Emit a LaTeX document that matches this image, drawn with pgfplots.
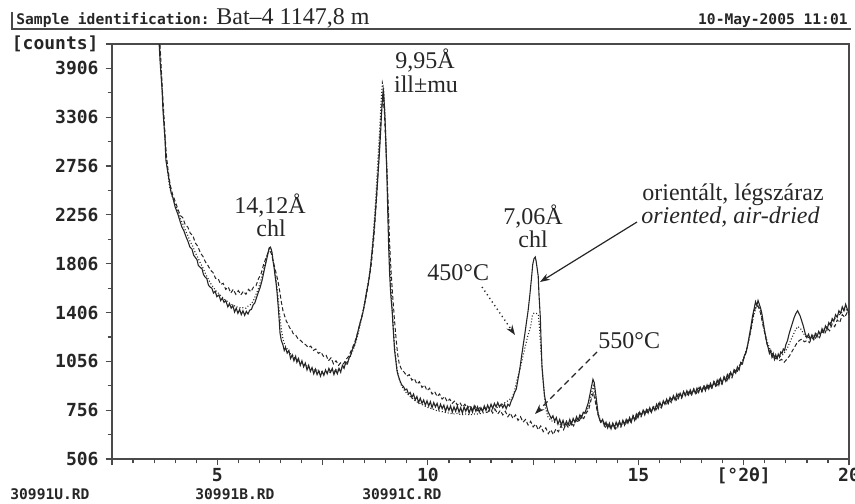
\documentclass[border=0pt]{standalone}
\usepackage{pgfplots}
\pgfplotsset{compat=1.18}
\usepackage{pgfplotstable}
\usepackage{fontspec}
\setmainfont{Liberation Serif}
\newfontfamily\dosfont{DejaVu Sans Mono}[BoldFont={DejaVu Sans Mono Bold}]
\usetikzlibrary{arrows.meta}
\definecolor{ink}{HTML}{262626}
\definecolor{frame}{HTML}{4A4A4A}

\pgfplotstableread{
x y
3.50 5200
3.62 4222
3.64 4012
3.69 3632
3.71 3390
3.76 3042
3.78 2820
3.83 2680
3.90 2483
3.95 2420
4.00 2332
4.04 2290
4.07 2255
4.12 2190
4.16 2139
4.21 2100
4.26 2046
4.30 2010
4.35 1954
4.40 1935
4.44 1880
4.47 1865
4.52 1840
4.55 1790
4.59 1777
4.64 1760
4.67 1715
4.71 1692
4.75 1680
4.79 1625
4.83 1608
4.87 1600
4.91 1560
4.95 1575
4.99 1530
5.04 1545
5.08 1500
5.12 1520
5.16 1485
5.20 1500
5.25 1450
5.29 1475
5.33 1440
5.37 1460
5.41 1410
5.45 1440
5.49 1400
5.53 1430
5.57 1390
5.61 1420
5.65 1385
5.69 1415
5.73 1395
5.77 1425
5.81 1430
5.85 1465
5.89 1480
5.94 1530
5.98 1570
6.02 1608
6.06 1660
6.09 1708
6.13 1777
6.17 1840
6.21 1910
6.23 1945
6.26 1954
6.28 1935
6.30 1905
6.32 1838
6.35 1770
6.37 1708
6.40 1630
6.42 1560
6.45 1440
6.47 1349
6.49 1253
6.52 1200
6.56 1168
6.59 1130
6.62 1150
6.66 1112
6.70 1130
6.74 1075
6.78 1100
6.82 1060
6.86 1090
6.89 1050
6.93 1075
6.97 1030
7.01 1060
7.05 1020
7.09 1045
7.13 1000
7.17 1030
7.21 990
7.25 1015
7.29 975
7.33 1005
7.37 970
7.41 995
7.45 960
7.49 990
7.53 965
7.57 1000
7.61 975
7.65 1010
7.69 985
7.73 1010
7.77 970
7.81 1000
7.85 975
7.89 1010
7.93 985
7.97 1030
8.01 1010
8.05 1050
8.09 1040
8.13 1080
8.17 1100
8.21 1140
8.25 1160
8.29 1200
8.32 1240
8.36 1290
8.40 1340
8.43 1370
8.46 1410
8.50 1480
8.54 1560
8.58 1630
8.62 1720
8.65 1820
8.68 1930
8.71 2060
8.74 2200
8.77 2380
8.80 2560
8.83 2760
8.86 2980
8.88 3150
8.90 3350
8.92 3520
8.94 3640
8.95 3600
8.97 3420
8.99 3200
9.01 2900
9.03 2620
9.05 2250
9.07 1950
9.09 1740
9.11 1600
9.13 1500
9.15 1430
9.18 1270
9.21 1130
9.24 1060
9.27 990
9.30 960
9.34 930
9.38 905
9.42 895
9.46 875
9.50 880
9.54 850
9.58 860
9.62 830
9.66 850
9.70 815
9.74 835
9.78 800
9.82 825
9.86 795
9.90 815
9.94 785
9.98 810
10.02 780
10.06 805
10.10 770
10.14 800
10.18 775
10.22 795
10.26 760
10.30 790
10.34 765
10.38 785
10.42 750
10.46 780
10.50 755
10.54 780
10.58 745
10.62 775
10.66 750
10.70 780
10.74 745
10.78 770
10.82 740
10.86 775
10.90 750
10.94 775
10.98 740
11.02 770
11.06 745
11.10 780
11.14 750
11.18 775
11.22 745
11.26 770
11.30 750
11.34 780
11.38 755
11.42 785
11.46 760
11.50 790
11.54 765
11.58 795
11.62 775
11.66 800
11.70 775
11.74 790
11.78 770
11.82 790
11.86 765
11.90 790
11.94 780
11.98 810
12.02 830
12.06 860
12.10 880
12.14 940
12.18 1000
12.22 1080
12.26 1160
12.30 1240
12.34 1330
12.38 1420
12.42 1540
12.46 1680
12.49 1800
12.52 1850
12.55 1865
12.57 1830
12.59 1780
12.62 1700
12.64 1540
12.67 1370
12.69 1180
12.71 1020
12.74 920
12.77 840
12.81 790
12.85 750
12.89 730
12.93 710
12.97 725
13.01 695
13.05 715
13.09 680
13.13 705
13.17 675
13.21 700
13.25 670
13.29 695
13.33 675
13.37 705
13.41 680
13.45 710
13.49 690
13.53 720
13.57 700
13.61 730
13.65 715
13.69 745
13.73 740
13.77 770
13.81 800
13.85 850
13.89 900
13.92 940
13.95 920
13.98 860
14.01 800
14.04 740
14.07 710
14.11 690
14.15 705
14.19 670
14.23 690
14.27 660
14.31 685
14.35 655
14.39 685
14.43 660
14.47 690
14.51 665
14.55 695
14.59 670
14.63 700
14.67 675
14.71 705
14.75 685
14.79 715
14.83 690
14.87 725
14.91 700
14.95 735
14.99 715
15.03 745
15.07 725
15.11 755
15.15 730
15.19 760
15.23 740
15.27 770
15.31 745
15.35 775
15.39 755
15.43 790
15.47 765
15.51 800
15.55 775
15.59 810
15.63 790
15.67 820
15.71 795
15.75 830
15.79 810
15.83 840
15.87 815
15.91 850
15.95 825
15.99 855
16.03 830
16.07 865
16.11 840
16.15 870
16.19 845
16.23 875
16.27 850
16.31 880
16.35 855
16.39 885
16.43 860
16.47 890
16.51 865
16.55 895
16.59 870
16.63 905
16.67 880
16.71 915
16.75 890
16.79 925
16.83 900
16.87 935
16.91 905
16.95 945
16.99 915
17.03 955
17.07 930
17.11 970
17.15 945
17.19 985
17.23 960
17.27 1000
17.31 980
17.35 1020
17.39 1000
17.43 1050
17.47 1040
17.51 1090
17.55 1110
17.59 1160
17.63 1230
17.67 1300
17.71 1380
17.75 1440
17.78 1490
17.81 1460
17.84 1500
17.87 1470
17.90 1440
17.93 1400
17.96 1340
17.99 1280
18.02 1230
18.05 1180
18.08 1150
18.11 1110
18.14 1130
18.17 1085
18.20 1110
18.23 1070
18.26 1100
18.29 1075
18.32 1105
18.35 1085
18.38 1120
18.41 1110
18.44 1140
18.47 1130
18.50 1170
18.54 1200
18.58 1250
18.62 1290
18.66 1330
18.70 1370
18.74 1400
18.78 1420
18.81 1400
18.84 1380
18.88 1340
18.92 1300
18.96 1250
19.00 1220
19.04 1245
19.08 1205
19.12 1240
19.16 1210
19.20 1250
19.24 1225
19.28 1265
19.32 1240
19.36 1285
19.40 1260
19.44 1305
19.48 1280
19.52 1330
19.56 1310
19.60 1360
19.64 1340
19.68 1390
19.72 1370
19.76 1420
19.80 1400
19.84 1450
19.88 1420
19.92 1470
19.96 1430
20.00 1400
}\airdried

\pgfplotstableread{
x y
3.53 5200
3.63 4222
3.66 3950
3.69 3650
3.72 3380
3.75 3120
3.78 2870
3.82 2700
3.87 2530
3.93 2440
4.00 2360
4.06 2290
4.12 2220
4.18 2170
4.24 2110
4.30 2060
4.36 2000
4.42 1960
4.48 1900
4.54 1860
4.60 1810
4.66 1770
4.72 1720
4.78 1680
4.84 1640
4.90 1610
4.96 1580
5.02 1560
5.08 1540
5.14 1520
5.20 1500
5.26 1490
5.32 1470
5.38 1465
5.44 1450
5.50 1450
5.56 1440
5.62 1445
5.68 1440
5.74 1460
5.80 1470
5.86 1500
5.92 1550
5.98 1600
6.04 1670
6.10 1750
6.16 1840
6.20 1900
6.24 1940
6.28 1920
6.32 1850
6.36 1760
6.40 1660
6.44 1540
6.48 1400
6.52 1280
6.56 1210
6.60 1170
6.66 1140
6.72 1110
6.78 1100
6.84 1080
6.90 1070
6.96 1050
7.02 1045
7.08 1030
7.14 1025
7.20 1010
7.26 1010
7.32 995
7.38 1000
7.44 985
7.50 990
7.56 980
7.62 990
7.68 985
7.74 1000
7.80 990
7.86 1005
7.92 1000
7.98 1020
8.04 1030
8.10 1060
8.16 1090
8.22 1130
8.28 1180
8.34 1240
8.40 1320
8.46 1420
8.52 1520
8.58 1640
8.64 1790
8.70 2050
8.76 2400
8.81 2800
8.86 3200
8.89 3500
8.92 3720
8.95 3650
8.98 3350
9.01 2950
9.04 2500
9.07 2100
9.10 1780
9.13 1560
9.17 1340
9.21 1150
9.26 1020
9.31 950
9.36 910
9.42 880
9.48 860
9.54 845
9.60 830
9.66 820
9.72 805
9.78 800
9.84 790
9.90 785
9.96 775
10.02 770
10.10 765
10.20 755
10.30 750
10.40 745
10.50 740
10.60 735
10.70 738
10.80 730
10.90 735
11.00 730
11.10 735
11.20 735
11.30 740
11.40 745
11.50 755
11.60 765
11.70 780
11.80 795
11.90 810
12.00 830
12.05 860
12.10 920
12.15 970
12.20 1020
12.25 1080
12.31 1154
12.37 1230
12.44 1300
12.48 1380
12.52 1402
12.57 1400
12.62 1395
12.65 1300
12.67 1196
12.70 1060
12.74 936
12.79 774
12.85 720
12.92 700
13.00 690
13.10 680
13.20 675
13.30 680
13.40 690
13.50 700
13.60 715
13.70 735
13.78 760
13.84 800
13.90 870
13.94 900
13.98 830
14.04 740
14.10 700
14.20 680
14.30 670
14.40 670
14.50 675
14.60 685
14.70 695
14.80 705
14.90 715
15.00 730
15.10 740
15.20 750
15.30 760
15.40 775
15.50 785
15.60 800
15.70 810
15.80 825
15.90 835
16.00 845
16.10 855
16.20 860
16.30 870
16.40 875
16.50 885
16.60 890
16.70 900
16.80 910
16.90 925
17.00 935
17.10 950
17.20 965
17.30 990
17.40 1030
17.50 1080
17.56 1130
17.62 1200
17.68 1290
17.74 1390
17.80 1450
17.85 1460
17.90 1420
17.95 1340
18.00 1260
18.06 1190
18.12 1140
18.18 1110
18.24 1090
18.30 1085
18.36 1090
18.42 1100
18.48 1120
18.54 1150
18.60 1190
18.66 1230
18.72 1270
18.78 1300
18.84 1290
18.90 1260
18.96 1230
19.02 1220
19.10 1225
19.20 1240
19.30 1260
19.40 1280
19.50 1310
19.60 1340
19.70 1370
19.80 1400
19.90 1430
20.00 1420
}\heatedA

\pgfplotstableread{
x y
3.55 5200
3.64 4222
3.67 3900
3.70 3600
3.73 3350
3.76 3100
3.79 2880
3.83 2720
3.88 2560
3.94 2460
4.00 2390
4.06 2320
4.12 2250
4.18 2230
4.24 2160
4.30 2140
4.36 2080
4.42 2060
4.48 1990
4.54 1960
4.60 1900
4.66 1870
4.72 1820
4.78 1790
4.84 1750
4.90 1730
4.96 1680
5.02 1680
5.08 1630
5.14 1640
5.20 1590
5.26 1610
5.32 1560
5.38 1590
5.44 1550
5.50 1580
5.56 1545
5.62 1575
5.68 1550
5.74 1590
5.80 1570
5.86 1610
5.92 1620
5.98 1680
6.04 1720
6.10 1800
6.16 1860
6.20 1900
6.24 1920
6.28 1900
6.32 1840
6.36 1780
6.40 1720
6.44 1660
6.48 1580
6.52 1490
6.56 1420
6.60 1380
6.64 1340
6.68 1320
6.72 1290
6.76 1280
6.80 1250
6.86 1240
6.92 1210
6.98 1200
7.04 1180
7.10 1170
7.16 1150
7.22 1160
7.28 1130
7.34 1140
7.40 1110
7.46 1120
7.52 1090
7.58 1100
7.64 1060
7.70 1080
7.76 1040
7.82 1060
7.88 1030
7.94 1050
8.00 1040
8.06 1070
8.12 1090
8.18 1130
8.24 1170
8.30 1220
8.36 1290
8.42 1360
8.48 1440
8.54 1540
8.60 1660
8.66 1810
8.72 2050
8.78 2400
8.83 2800
8.87 3150
8.91 3450
8.94 3520
8.97 3350
9.00 3000
9.03 2700
9.06 2350
9.09 2000
9.12 1780
9.16 1560
9.20 1380
9.24 1230
9.28 1110
9.32 1040
9.38 1000
9.44 985
9.50 960
9.56 970
9.62 935
9.68 945
9.74 910
9.80 925
9.86 890
9.92 905
9.98 870
10.04 885
10.10 850
10.16 865
10.22 835
10.28 850
10.34 820
10.40 835
10.46 805
10.52 820
10.58 795
10.64 810
10.70 785
10.76 800
10.82 775
10.88 790
10.94 765
11.00 785
11.06 760
11.12 780
11.18 755
11.24 775
11.30 750
11.36 770
11.42 745
11.48 765
11.54 740
11.60 760
11.66 735
11.72 755
11.78 730
11.84 750
11.90 720
11.96 740
12.02 710
12.08 730
12.14 700
12.20 720
12.26 690
12.32 705
12.38 675
12.44 695
12.50 665
12.56 680
12.62 650
12.68 670
12.74 640
12.80 660
12.86 630
12.92 650
12.98 625
13.04 655
13.10 640
13.16 670
13.22 650
13.28 680
13.34 660
13.40 690
13.46 670
13.52 700
13.58 690
13.64 720
13.70 710
13.76 740
13.82 760
13.88 820
13.93 860
13.98 800
14.04 730
14.10 690
14.16 700
14.22 665
14.28 685
14.34 655
14.40 680
14.46 655
14.52 685
14.58 665
14.64 695
14.70 675
14.76 710
14.82 690
14.88 725
14.94 705
15.00 740
15.06 720
15.12 755
15.18 735
15.24 770
15.30 745
15.36 780
15.42 760
15.48 795
15.54 770
15.60 805
15.66 785
15.72 820
15.78 800
15.84 835
15.90 815
15.96 850
16.02 825
16.08 860
16.14 835
16.20 870
16.26 845
16.32 880
16.38 855
16.44 890
16.50 865
16.56 900
16.62 875
16.68 910
16.74 885
16.80 925
16.86 900
16.92 940
16.98 910
17.04 955
17.10 930
17.16 975
17.22 950
17.28 1000
17.34 985
17.40 1030
17.46 1040
17.52 1090
17.58 1150
17.64 1230
17.70 1330
17.75 1420
17.80 1460
17.85 1450
17.90 1400
17.95 1320
18.00 1250
18.05 1180
18.10 1130
18.16 1100
18.22 1070
18.28 1080
18.34 1060
18.40 1070
18.46 1050
18.52 1070
18.58 1090
18.64 1120
18.70 1150
18.76 1180
18.82 1200
18.88 1210
18.94 1190
19.00 1200
19.06 1185
19.12 1220
19.18 1200
19.24 1240
19.30 1220
19.36 1265
19.42 1245
19.48 1290
19.54 1270
19.60 1320
19.66 1300
19.72 1350
19.78 1330
19.84 1390
19.90 1370
19.96 1410
20.00 1390
}\heatedB

\begin{document}
\begin{tikzpicture}
% axis box: left 112px, right 849px, top 44px, bottom 459px (1px = 0.5pt)
\begin{axis}[
  at={(56pt,-229.5pt)}, anchor=south west,
  scale only axis, width=368.5pt, height=207.5pt,
  xmin=2.5, xmax=20, ymin=22.5, ymax=65,
  y filter/.expression={sqrt(y)},
  axis line style={draw=frame, line width=0.8pt},
  tick align=outside, tick pos=left,
  major tick length=3.2pt, minor tick length=2.2pt,
  every tick/.style={draw=frame, line width=0.6pt},
  xtick={2.5,5,7.5,10,12.5,15,17.5,20},
  xticklabels={,5,,10,,15,{[°2θ]},20},
  minor x tick num=4,
  ytick={22.5,27.5,32.5,37.5,42.5,47.5,52.5,57.5,62.5,65},
  yticklabels={506,756,1056,1406,1806,2256,2756,3306,3906,{[counts]}},
  minor ytick={25,30,35,40,45,50,55,60},
  tick label style={font=\dosfont\bfseries\fontsize{9}{9}\selectfont, text=ink},
  xticklabel style={yshift=2.2pt},
  yticklabel style={xshift=0pt},
  clip=true,
]
\addplot[ink, line width=0.55pt] table[x=x,y=y] {\airdried};
\addplot[ink, line width=0.55pt, dash pattern=on 0.5pt off 1pt] table[x=x,y=y] {\heatedA};
\addplot[ink, line width=0.5pt, dash pattern=on 2pt off 1.2pt] table[x=x,y=y] {\heatedB};
\end{axis}

\begin{scope}[x=0.5pt, y=-0.5pt]
  % header
  \draw[frame, line width=0.7pt] (12,12) -- (12,29) -- (851,29);
  \node[anchor=base west, inner sep=0, text=ink, font=\dosfont\bfseries\fontsize{7.3}{7.3}\selectfont] at (16,25) {Sample identification:};
  \node[anchor=base west, inner sep=0, text=ink, font=\fontsize{12}{12}\selectfont] at (216,25) {Bat–4 1147,8 m};
  \node[anchor=base east, inner sep=0, text=ink, font=\dosfont\bfseries\fontsize{7.3}{7.3}\selectfont] at (848,25) {10-May-2005 11:01};
  % file names
  \node[anchor=base west, inner sep=0, text=ink, font=\dosfont\bfseries\fontsize{7.3}{7.3}\selectfont] at (10,499) {30991U.RD};
  \node[anchor=base west, inner sep=0, text=ink, font=\dosfont\bfseries\fontsize{7.3}{7.3}\selectfont] at (195,499) {30991B.RD};
  \node[anchor=base west, inner sep=0, text=ink, font=\dosfont\bfseries\fontsize{7.3}{7.3}\selectfont] at (362,499) {30991C.RD};
  % annotations
  \begin{scope}[every node/.style={inner sep=0, text=ink, font=\fontsize{12}{12}\selectfont}]
    \node[anchor=base] at (270,213) {14,12Å};
    \node[anchor=base] at (271,236) {chl};
    \node[anchor=base] at (425,68) {9,95Å};
    \node[anchor=base] at (426,92) {ill±mu};
    \node[anchor=base] at (533,224) {7,06Å};
    \node[anchor=base] at (533,247) {chl};
    \node[anchor=base west] at (642,200) {orientált, légszáraz};
    \node[anchor=base west] at (641,223) {\itshape oriented, air-dried};
    \node[anchor=base west] at (427,280) {450°C};
    \node[anchor=base west] at (598,348) {550°C};
  \end{scope}
  \draw[ink, line width=0.6pt, -{Stealth[length=5pt,width=3.5pt]}] (637,222) -- (540,282);
  \draw[ink, line width=0.7pt, dash pattern=on 0.6pt off 1.6pt, -{Stealth[length=5pt,width=3.5pt]}] (482,287) -- (515,335);
  \draw[ink, line width=0.6pt, dash pattern=on 3pt off 2pt, -{Stealth[length=5pt,width=3.5pt]}] (597,352) -- (535,414);
\end{scope}
\pgfresetboundingbox
\useasboundingbox (0,0) rectangle (427.5pt,-251.5pt);
\end{tikzpicture}
\end{document}
